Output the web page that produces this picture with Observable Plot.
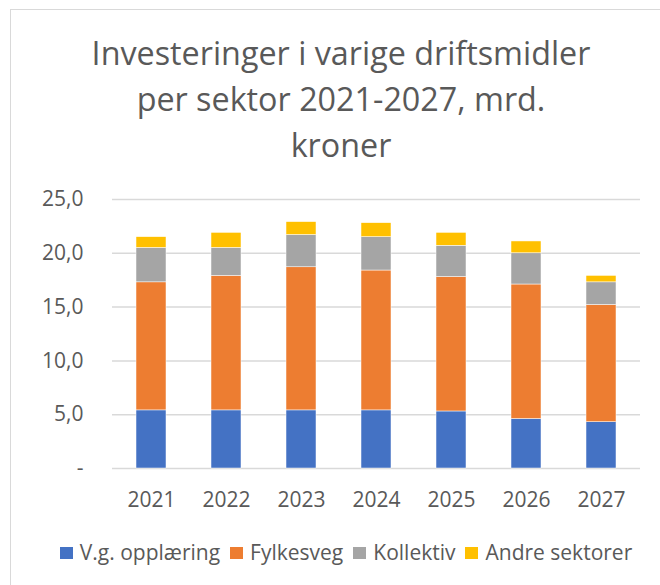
<!DOCTYPE html>
<html><head><meta charset="utf-8">
<script src="https://cdn.jsdelivr.net/npm/d3@7"></script>
<script src="https://cdn.jsdelivr.net/npm/@observablehq/plot@0.6"></script>
<style>
html,body{margin:0;padding:0;background:#fff;overflow:hidden;width:660px;height:585px;}
#wrap{position:relative;width:660px;height:585px;font-family:"Open Sans",sans-serif;color:#595959;}
#frame{position:absolute;left:10px;top:9px;width:700px;height:700px;border:1.5px solid #d9d9d9;box-sizing:border-box;}
#title{position:absolute;left:10px;width:662px;top:29px;text-align:center;font-size:32.3px;line-height:46px;color:#595959;}
#chart{position:absolute;left:0;top:180px;}
#legend{position:absolute;top:542px;left:0;width:692px;display:flex;justify-content:center;gap:10px;font-size:21px;line-height:20px;color:#595959;}
#legend .it{display:flex;align-items:center;white-space:nowrap;}
#legend span.sw{display:inline-block;width:13px;height:12px;margin-right:7px;position:relative;top:1px;}
</style></head>
<body><div id="wrap"><div id="frame"></div>
<div id="title">Investeringer i varige driftsmidler<br>per sektor 2021-2027, mrd.<br>kroner</div>
<div id="chart"></div><div id="legend"></div></div>
<script>
const years = ["2021","2022","2023","2024","2025","2026","2027"];
const sectors = ["V.g. opplæring","Fylkesveg","Kollektiv","Andre sektorer"];
const colors = ["#4472C4","#ED7D31","#A5A5A5","#FFC000"];
const vgOpplaering = [5.4,5.4,5.4,5.4,5.3,4.6,4.3];
const fylkesveg = [11.9,12.5,13.3,13.0,12.5,12.5,10.9];
const kollektiv = [3.2,2.6,3.0,3.1,2.9,2.9,2.1];
const andre = [1.0,1.4,1.2,1.3,1.2,1.1,0.6];
const yTicks = [0,5,10,15,20,25];

const series = [vgOpplaering, fylkesveg, kollektiv, andre];
const data = [];
years.forEach((y,i)=>series.forEach((s,k)=>data.push({year:y, sector:sectors[k], value:s[i]})));

const fmt = v => v===0 ? "-" : v.toFixed(1).replace(".", ",");

const plot = Plot.plot({
  width: 660, height: 333,
  marginTop: 19, marginBottom: 45, marginLeft: 112, marginRight: 20,
  style: {fontFamily: "Open Sans, sans-serif", fontSize: "21px", color: "#595959", background: "transparent"},
  x: {domain: years, paddingInner: 0.6, paddingOuter: 0.3, label: null, tickSize: 0, tickPadding: 24},
  y: {domain: [0,25], ticks: yTicks, tickFormat: fmt, label: null, tickSize: 0, tickPadding: 29},
  color: {domain: sectors, range: colors},
  marks: [
    Plot.gridY(yTicks, {stroke: "#d9d9d9", strokeOpacity: 1, strokeWidth: 1.5}),
    Plot.barY(data, {x: "year", y: "value", fill: "sector", order: null, stroke: "#fff", strokeWidth: 0.5})
  ]
});
document.getElementById("chart").appendChild(plot);

const lg = document.getElementById("legend");
sectors.forEach((s,i)=>{
  const d = document.createElement("div");
  d.className = "it";
  d.innerHTML = `<span class="sw" style="background:${colors[i]}"></span>${s}`;
  lg.appendChild(d);
});
</script></body></html>
